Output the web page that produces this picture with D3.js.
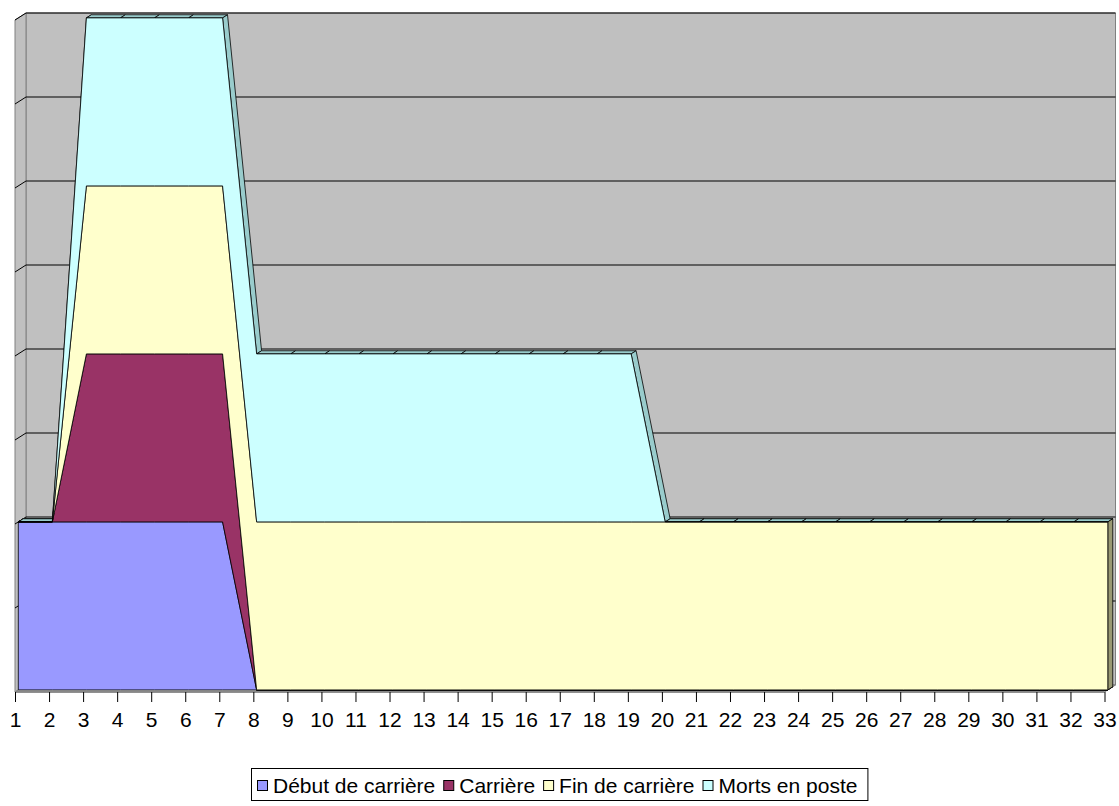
<!DOCTYPE html>
<html>
<head>
<meta charset="utf-8">
<script src="https://cdn.jsdelivr.net/npm/d3@7"></script>
<style>
  body { margin: 0; background: #fff; }
  text { font-family: Arial, "Liberation Sans", sans-serif; }
</style>
</head>
<body>
<div id="chart"></div>
<script>
// catégories et séries (aire 3D empilée)
var categories = d3.range(1, 34);
var seriesNames = ["Début de carrière", "Carrière", "Fin de carrière", "Morts en poste"];
var debut    = [1,1,1,1,1,1,1,0,0,0,0,0,0,0,0,0,0,0,0,0,0,0,0,0,0,0,0,0,0,0,0,0,0];
var carriere = [0,0,1,1,1,1,1,0,0,0,0,0,0,0,0,0,0,0,0,0,0,0,0,0,0,0,0,0,0,0,0,0,0];
var fin      = [0,0,1,1,1,1,1,1,1,1,1,1,1,1,1,1,1,1,1,1,1,1,1,1,1,1,1,1,1,1,1,1,1];
var morts    = [0,0,1,1,1,1,1,1,1,1,1,1,1,1,1,1,1,1,1,0,0,0,0,0,0,0,0,0,0,0,0,0,0];
var yTicks = [0.5, 1, 1.5, 2, 2.5, 3, 3.5, 4];

var frontColors = ["#9999FF", "#993366", "#FFFFCC", "#CCFFFF"];
var topColors   = ["#7373BF", "#73264C", "#CCCC99", "#99CCCC"];
var sideColors  = ["#6B6BB3", "#6B2447", "#999973", "#8FBFBF"];

var width = 1119, height = 806;
var wallDx = 11, wallDy = -7;       // profondeur du mur du fond
var faceFront = 0.3, faceBack = 0.75; // profondeur des séries (fraction)

var x = d3.scalePoint().domain(categories).range([15, 1104.5]);
var y = d3.scaleLinear().domain([0, 4]).range([692, 20]);

function P(cx, v, depth) {  // projection oblique
  return [x(cx) + wallDx * depth, y(v) + wallDy * depth];
}

var table = categories.map(function (c, i) {
  return { cat: c, d0: debut[i], d1: carriere[i], d2: fin[i], d3: morts[i] };
});
var stacked = d3.stack().keys(["d0", "d1", "d2", "d3"])(table);

var svg = d3.select("#chart").append("svg")
  .attr("width", width).attr("height", height);

var line = d3.line();

// mur du fond
var x0 = x(1), x1 = x(33);
svg.append("path")
  .attr("d", line([[x0 + wallDx, y(4) + wallDy], [x1 + wallDx, y(4) + wallDy],
                   [x1 + wallDx, y(0) + wallDy], [x0 + wallDx, y(0) + wallDy]]) + "Z")
  .style("fill", "#C0C0C0").style("stroke", "#808080");

// mur de gauche
svg.append("path")
  .attr("d", line([[x0, y(4)], [x0 + wallDx, y(4) + wallDy],
                   [x0 + wallDx, y(0) + wallDy], [x0, y(0)]]) + "Z")
  .style("fill", "#C0C0C0").style("stroke", "#808080");

// sol
svg.append("path")
  .attr("d", line([[x0, y(0)], [x0 + wallDx, y(0) + wallDy],
                   [x1 + wallDx, y(0) + wallDy], [x1, y(0)]]) + "Z")
  .style("fill", "#C0C0C0").style("stroke", "#808080");

// quadrillage
yTicks.forEach(function (v) {
  svg.append("path")
    .attr("d", line([[x0, y(v)], [x0 + wallDx, y(v) + wallDy], [x1 + wallDx, y(v) + wallDy]]))
    .style("fill", "none").style("stroke", "#000").style("stroke-width", 1);
});

// faces du dessus
stacked.forEach(function (s, k) {
  for (var i = 0; i < s.length - 1; i++) {
    var a = s[i], b = s[i + 1];
    var q = [P(a.data.cat, a[1], faceFront), P(b.data.cat, b[1], faceFront),
             P(b.data.cat, b[1], faceBack), P(a.data.cat, a[1], faceBack)];
    svg.append("path").attr("d", line(q) + "Z")
      .style("fill", topColors[k]).style("stroke", "#000").style("stroke-width", 0.8)
      .style("stroke-linejoin", "round");
  }
});

// faces de côté (extrémité droite)
stacked.forEach(function (s, k) {
  var e = s[s.length - 1];
  if (e[1] - e[0] <= 0) return;
  var q = [P(e.data.cat, e[0], faceFront), P(e.data.cat, e[1], faceFront),
           P(e.data.cat, e[1], faceBack), P(e.data.cat, e[0], faceBack)];
  svg.append("path").attr("d", line(q) + "Z")
    .style("fill", sideColors[k]).style("stroke", "#000").style("stroke-width", 0.8);
});

// faces avant
stacked.forEach(function (s, k) {
  var pts = s.map(function (d) { return P(d.data.cat, d[1], faceFront); });
  var bottom = s.slice().reverse().map(function (d) { return P(d.data.cat, d[0], faceFront); });
  svg.append("path").attr("d", line(pts.concat(bottom)) + "Z")
    .style("fill", frontColors[k]).style("stroke", "#000").style("stroke-width", 0.8)
    .style("stroke-linejoin", "round");
});

// axe des x
var xAxis = svg.append("g").attr("transform", "translate(0," + y(0) + ")")
  .call(d3.axisBottom(x).tickSize(10).tickPadding(10));
xAxis.select(".domain").style("stroke", "#808080").style("stroke-width", 1.5)
  .attr("d", "M" + x0 + ",0H" + x1);
xAxis.selectAll(".tick line").style("stroke", "#000");
xAxis.selectAll(".tick text").style("font-size", "21px").style("fill", "#000")
  .style("font-family", "Arial, 'Liberation Sans', sans-serif");

// légende
var legend = svg.append("g");
var box = legend.append("rect")
  .attr("x", 251.5).attr("y", 768.5).attr("height", 32)
  .style("fill", "#fff").style("stroke", "#000");
var lx = 257;
seriesNames.forEach(function (name, k) {
  legend.append("rect")
    .attr("x", lx + 0.5).attr("y", 780.5).attr("width", 10).attr("height", 10)
    .style("fill", frontColors[k]).style("stroke", "#000");
  var t = legend.append("text")
    .attr("x", lx + 16).attr("y", 793)
    .style("font-size", "21px").text(name);
  lx += 16 + t.node().getComputedTextLength() + 8;
});
box.attr("width", lx - 251 + 2);
</script>
</body>
</html>
